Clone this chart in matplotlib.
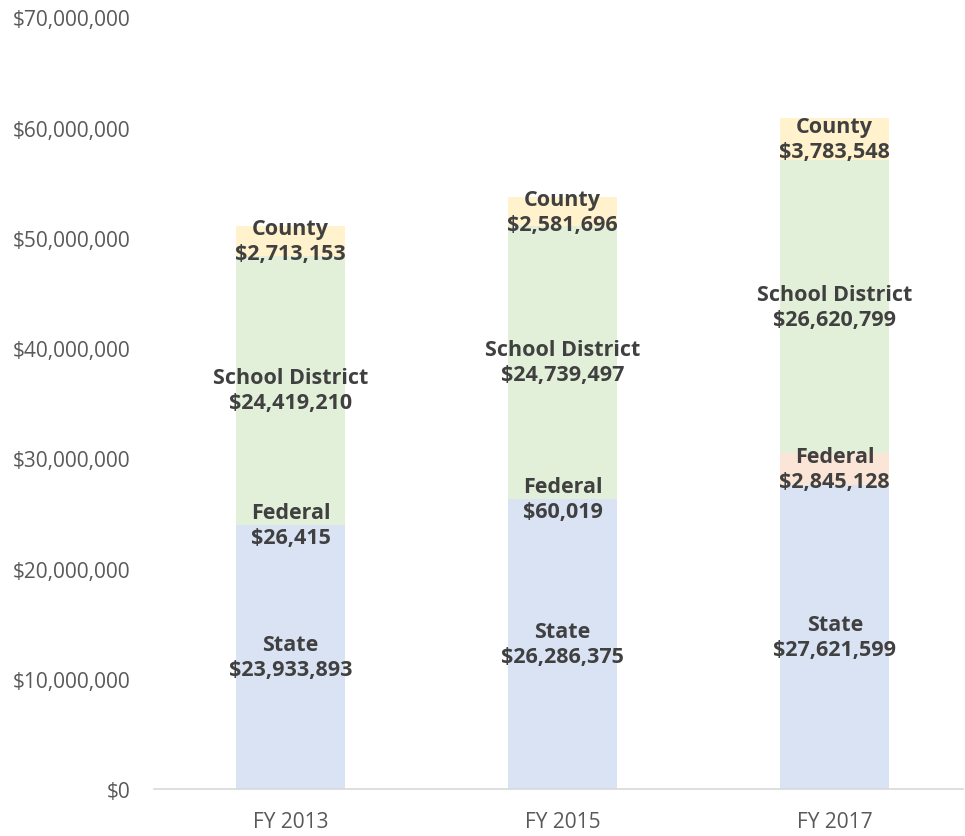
import numpy as np
import matplotlib.pyplot as plt
from matplotlib.ticker import FuncFormatter

plt.rcParams['font.family'] = ['Open Sans', 'DejaVu Sans']

years = ['FY 2013', 'FY 2015', 'FY 2017']
sources = ['State', 'Federal', 'School District', 'County']
state = [23933893, 26286375, 27621599]
federal = [26415, 60019, 2845128]
school = [24419210, 24739497, 26620799]
county = [2713153, 2581696, 3783548]
colors = ['#DAE3F3', '#FBE5D6', '#E2F0D9', '#FFF2CC']

fig = plt.figure(figsize=(9.65, 8.37), dpi=100)
ax = fig.add_axes([0.160, 0.056, 0.846, 0.922])

x = np.arange(len(years))
bottom = np.zeros(len(years))
for name, vals, c in zip(sources, [state, federal, school, county], colors):
    vals = np.array(vals, dtype=float)
    ax.bar(x, vals, 0.40, bottom=bottom, color=c, zorder=2)
    for xi, b, v in zip(x, bottom, vals):
        ax.text(xi, b + v / 2, f'{name}\n${v:,.0f}', ha='center', va='center',
                fontsize=15.5, fontweight='bold', color='#404040',
                linespacing=1.25, zorder=3)
    bottom += vals

ax.set_xlim(-0.5, 2.5)
ax.set_ylim(0, 70000000)
ax.set_yticks(np.arange(0, 70000001, 10000000))
ax.yaxis.set_major_formatter(FuncFormatter(lambda v, p: f'${v:,.0f}'))
ax.set_xticks(x)
ax.set_xticklabels(years)
ax.tick_params(axis='both', length=0, labelsize=15, colors='#595959')
ax.tick_params(axis='y', pad=17)
ax.tick_params(axis='x', pad=16)
for s in ['top', 'right', 'left']:
    ax.spines[s].set_visible(False)
ax.spines['bottom'].set_color('#D9D9D9')
ax.spines['bottom'].set_linewidth(1.2)
ax.spines['bottom'].set_bounds(-0.5, 2.47)

fig.savefig('out.png', dpi=100)
